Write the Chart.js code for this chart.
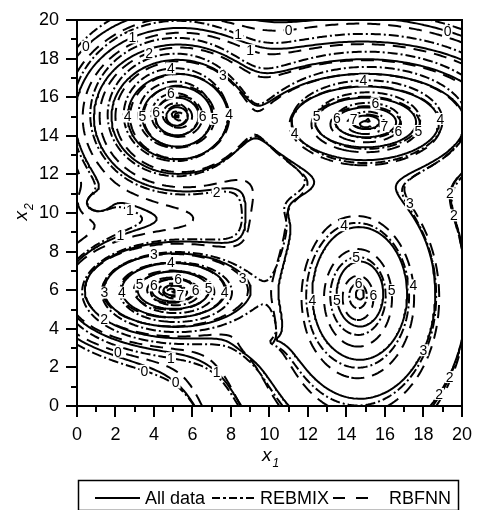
<!DOCTYPE html>
<html>
<head>
<meta charset="utf-8">
<script src="https://cdn.jsdelivr.net/npm/chart.js@4.4.1/dist/chart.umd.min.js"></script>
<style>
  html, body { margin: 0; padding: 0; background: #fff; }
  #plot { display: block; }
</style>
</head>
<body>
<canvas id="plot" width="479" height="510"></canvas>
<script>
// contour levels drawn for every model
const levels = [0, 1, 2, 3, 4, 5, 6, 7, 8];
const axisTicks = [0, 2, 4, 6, 8, 10, 12, 14, 16, 18, 20];

// peaks: centre, height, spread in x1 and x2
// All data (solid)
const allCx = [5.2, 15.0, 5.0, 14.7, 11.6, 10.0, 1.0];
const allCy = [15.0, 14.7, 6.0, 5.8, 10.2, 3.4, 10.5];
const allH  = [8.6, 8.4, 8.4, 6.6, 2.9, 2.6, 1.6];
const allSx = [1.0, 1.56, 1.11, 2.16, 3.6, 3.0, 2.0];
const allSy = [0.86, 0.76, 0.58, 3.0, 2.4, 1.3, 1.5];

// REBMIX (dash-dot)
const rebCx = [5.1, 15.1, 5.1, 14.6, 11.4, 10.2, 1.0];
const rebCy = [15.1, 14.8, 5.9, 5.7, 10.3, 3.3, 10.5];
const rebH  = [8.8, 8.6, 8.6, 6.9, 2.9, 2.5, 1.5];
const rebSx = [0.98, 1.5, 1.12, 2.0, 3.5, 3.0, 2.0];
const rebSy = [0.88, 0.8, 0.6, 2.8, 2.4, 1.3, 1.5];

// RBFNN (dashed)
const rbfCx = [5.3, 15.0, 4.9, 14.6, 11.8, 10.0, 1.0];
const rbfCy = [15.0, 14.6, 6.0, 5.6, 10.0, 3.2, 10.5];
const rbfH  = [9.0, 8.9, 8.8, 7.4, 2.8, 2.3, 1.0];
const rbfSx = [0.88, 1.38, 1.0, 1.75, 3.3, 2.7, 2.0];
const rbfSy = [0.76, 0.7, 0.52, 2.5, 2.2, 1.2, 1.5];

const SLOPE = 2.38, POWER = 0.7, BETA = 1.0;
const GRID_N = 161, GRID_STEP = 20 / (GRID_N - 1);
const FONT = "'Liberation Sans', Arial, sans-serif";

function makeField(cx, cy, h, sx, sy) {
  const g = new Float64Array(GRID_N * GRID_N);
  for (let j = 0; j < GRID_N; j++) {
    for (let i = 0; i < GRID_N; i++) {
      const x = i * GRID_STEP, y = j * GRID_STEP;
      let s = 0;
      for (let k = 0; k < cx.length; k++) {
        const dx = (x - cx[k]) / sx[k], dy = (y - cy[k]) / sy[k];
        const r = Math.sqrt(dx * dx + dy * dy + 0.01);
        s += Math.exp(BETA * (h[k] - SLOPE * Math.pow(r, POWER)));
      }
      g[j * GRID_N + i] = Math.log(s) / BETA;
    }
  }
  return g;
}

const CASES = {1: [[3, 0]], 2: [[0, 1]], 3: [[3, 1]], 4: [[1, 2]], 6: [[0, 2]], 7: [[3, 2]],
  8: [[2, 3]], 9: [[0, 2]], 11: [[1, 2]], 12: [[1, 3]], 13: [[0, 1]], 14: [[3, 0]]};

// marching squares, then join the pieces into polylines
function contourLines(g, L) {
  const n = GRID_N, segs = [];
  for (let j = 0; j < n - 1; j++) {
    for (let i = 0; i < n - 1; i++) {
      const v0 = g[j * n + i], v1 = g[j * n + i + 1], v2 = g[(j + 1) * n + i + 1], v3 = g[(j + 1) * n + i];
      const c = (v0 > L ? 1 : 0) | (v1 > L ? 2 : 0) | (v2 > L ? 4 : 0) | (v3 > L ? 8 : 0);
      if (c === 0 || c === 15) continue;
      let pairs;
      if (c === 5 || c === 10) {
        const mid = (v0 + v1 + v2 + v3) / 4 > L;
        pairs = (c === 5) === mid ? [[0, 1], [2, 3]] : [[3, 0], [1, 2]];
      } else {
        pairs = CASES[c];
      }
      const t = (a, b) => (L - a) / (b - a);
      const edge = e => {
        if (e === 0) return [(j * n + i) * 2, i + t(v0, v1), j];
        if (e === 1) return [(j * n + i + 1) * 2 + 1, i + 1, j + t(v1, v2)];
        if (e === 2) return [((j + 1) * n + i) * 2, i + t(v3, v2), j + 1];
        return [(j * n + i) * 2 + 1, i, j + t(v0, v3)];
      };
      pairs.forEach(([ea, eb]) => {
        const A = edge(ea), B = edge(eb);
        segs.push({a: A[0], pa: {x: A[1] * GRID_STEP, y: A[2] * GRID_STEP},
                   b: B[0], pb: {x: B[1] * GRID_STEP, y: B[2] * GRID_STEP}});
      });
    }
  }
  const byKey = new Map();
  segs.forEach((s, idx) => {
    [s.a, s.b].forEach(k => {
      if (!byKey.has(k)) byKey.set(k, []);
      byKey.get(k).push(idx);
    });
  });
  const used = new Uint8Array(segs.length);
  const lines = [];
  for (let s0 = 0; s0 < segs.length; s0++) {
    if (used[s0]) continue;
    used[s0] = 1;
    const pts = [segs[s0].pa, segs[s0].pb];
    let key = segs[s0].b;
    for (;;) {
      const nx = byKey.get(key).find(q => !used[q]);
      if (nx === undefined) break;
      used[nx] = 1;
      const s = segs[nx];
      if (s.a === key) { pts.push(s.pb); key = s.b; } else { pts.push(s.pa); key = s.a; }
    }
    key = segs[s0].a;
    for (;;) {
      const nx = byKey.get(key).find(q => !used[q]);
      if (nx === undefined) break;
      used[nx] = 1;
      const s = segs[nx];
      if (s.a === key) { pts.unshift(s.pb); key = s.b; } else { pts.unshift(s.pa); key = s.a; }
    }
    lines.push(pts);
  }
  return lines;
}

const models = [
  {name: 'RBFNN', dash: [13, 8], at: 0.7, field: makeField(rbfCx, rbfCy, rbfH, rbfSx, rbfSy)},
  {name: 'REBMIX', dash: [10, 3, 2, 3], at: 0.45, field: makeField(rebCx, rebCy, rebH, rebSx, rebSy)},
  {name: 'All data', dash: [], at: 0.2, field: makeField(allCx, allCy, allH, allSx, allSy)}
];

models.forEach(m => {
  m.lines = levels.map(L => ({level: L, lines: contourLines(m.field, L)}));
});

const datasets = models.map(m => {
  const data = [];
  m.lines.forEach(lv => lv.lines.forEach(line => {
    line.forEach(p => data.push(p));
    data.push({x: NaN, y: NaN});
  }));
  return {
    label: m.name, data, showLine: true, spanGaps: false, pointRadius: 0,
    borderColor: '#000', borderWidth: 2, borderDash: m.dash, tension: 0,
    borderJoinStyle: 'round', fill: false
  };
});

// level numbers written on the lines
const labelPlugin = {
  id: 'levelLabels',
  afterDatasetsDraw(chart) {
    const {ctx, scales: {x, y}} = chart;
    const placed = [];
    ctx.save();
    ctx.font = '14px ' + FONT;
    ctx.textAlign = 'center';
    ctx.textBaseline = 'middle';
    models.slice().reverse().forEach(m => {
      m.lines.forEach(lv => lv.lines.forEach(line => {
        const px = line.map(p => [x.getPixelForValue(p.x), y.getPixelForValue(p.y)]);
        let total = 0;
        const acc = [0];
        for (let k = 1; k < px.length; k++) {
          total += Math.hypot(px[k][0] - px[k - 1][0], px[k][1] - px[k - 1][1]);
          acc.push(total);
        }
        if (total < 60) return;
        const target = total * m.at;
        let k = acc.findIndex(a => a >= target);
        if (k < 0) k = px.length - 1;
        const [lx, ly] = px[k];
        const ca = chart.chartArea;
        if (lx < ca.left + 8 || lx > ca.right - 8 || ly < ca.top + 8 || ly > ca.bottom - 8) return;
        if (placed.some(p => Math.abs(p[0] - lx) < 12 && Math.abs(p[1] - ly) < 14)) return;
        placed.push([lx, ly]);
        const txt = String(lv.level);
        const w = ctx.measureText(txt).width;
        ctx.fillStyle = '#fff';
        ctx.fillRect(lx - w / 2 - 1, ly - 6, w + 2, 12);
        ctx.fillStyle = '#000';
        ctx.fillText(txt, lx, ly + 1);
      }));
    });
    ctx.restore();
  }
};

// frame, minor ticks, axis titles and legend box
const framePlugin = {
  id: 'frame',
  afterDraw(chart) {
    const {ctx, chartArea: ca, scales: {x, y}} = chart;
    ctx.save();
    ctx.strokeStyle = '#000';
    ctx.lineWidth = 2;
    ctx.strokeRect(ca.left, ca.top, ca.right - ca.left, ca.bottom - ca.top);
    ctx.beginPath();
    for (let v = 1; v < 20; v += 2) {
      const xp = Math.round(x.getPixelForValue(v));
      ctx.moveTo(xp, ca.bottom); ctx.lineTo(xp, ca.bottom + 6);
      const yp = Math.round(y.getPixelForValue(v));
      ctx.moveTo(ca.left, yp); ctx.lineTo(ca.left - 6, yp);
    }
    ctx.stroke();

    ctx.fillStyle = '#000';
    ctx.textBaseline = 'alphabetic';
    const cxm = (ca.left + ca.right) / 2;
    ctx.font = 'italic 19px ' + FONT;
    ctx.textAlign = 'right';
    ctx.fillText('x', cxm + 2, 461);
    ctx.font = 'italic 12px ' + FONT;
    ctx.textAlign = 'left';
    ctx.fillText('1', cxm + 3, 467);

    ctx.save();
    ctx.translate(27, (ca.top + ca.bottom) / 2);
    ctx.rotate(-Math.PI / 2);
    ctx.font = 'italic 19px ' + FONT;
    ctx.textAlign = 'right';
    ctx.fillText('x', 2, 0);
    ctx.font = 'italic 12px ' + FONT;
    ctx.textAlign = 'left';
    ctx.fillText('2', 3, 6);
    ctx.restore();

    // legend
    ctx.lineWidth = 1.5;
    ctx.strokeRect(78.5, 480.5, 380, 30);
    const items = [
      {x0: 95, x1: 140, tx: 145, dash: [], text: 'All data'},
      {x0: 212, x1: 256, tx: 260, dash: [8, 3, 3, 3], text: 'REBMIX'},
      {x0: 333, x1: 368, tx: 389, dash: [12, 11], text: 'RBFNN'}
    ];
    ctx.font = '18px ' + FONT;
    ctx.textAlign = 'left';
    ctx.textBaseline = 'middle';
    items.forEach(it => {
      ctx.setLineDash(it.dash);
      ctx.lineWidth = 2;
      ctx.beginPath();
      ctx.moveTo(it.x0, 498);
      ctx.lineTo(it.x1, 498);
      ctx.stroke();
      ctx.setLineDash([]);
      ctx.fillText(it.text, it.tx, 499);
    });
    ctx.restore();
  }
};

const axisCommon = {
  type: 'linear', min: 0, max: 20,
  ticks: {stepSize: 2, color: '#000', font: {size: 18, family: FONT}, padding: 7, maxRotation: 0, autoSkip: false},
  grid: {drawOnChartArea: false, tickLength: 11, color: '#000', lineWidth: 2},
  border: {color: '#000', width: 2}
};

new Chart(document.getElementById('plot'), {
  type: 'scatter',
  data: {datasets},
  options: {
    responsive: false, animation: false, devicePixelRatio: 1,
    layout: {padding: {top: 20, right: 17, left: 0, bottom: 0}},
    plugins: {legend: {display: false}, tooltip: {enabled: false}},
    scales: {
      x: Object.assign({}, axisCommon, {position: 'bottom', afterFit: s => { s.height = 104; },
        afterBuildTicks: s => { s.ticks = axisTicks.map(v => ({value: v})); }}),
      y: Object.assign({}, axisCommon, {position: 'left', afterFit: s => { s.width = 77; },
        afterBuildTicks: s => { s.ticks = axisTicks.map(v => ({value: v})); }})
    }
  },
  plugins: [labelPlugin, framePlugin]
});
</script>
</body>
</html>
